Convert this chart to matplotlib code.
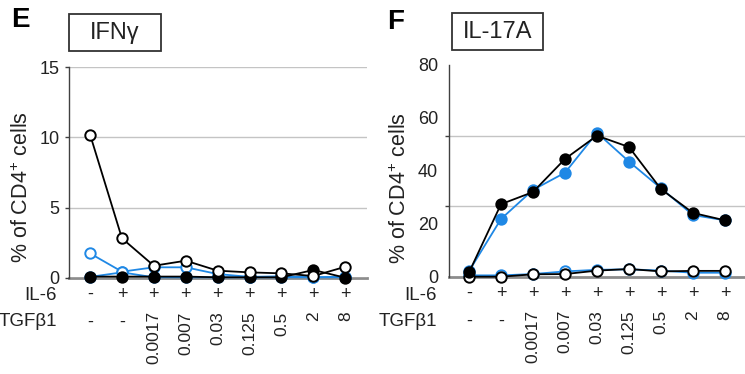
import matplotlib.pyplot as plt
from matplotlib.patches import Rectangle
from matplotlib.ticker import FixedLocator, NullFormatter

plt.rcParams['font.family'] = ['Liberation Sans', 'DejaVu Sans']
plt.rcParams['mathtext.fontset'] = 'custom'
plt.rcParams['mathtext.rm'] = 'Liberation Sans'

il6 = ['-', '+', '+', '+', '+', '+', '+', '+', '+']
tgfb1 = ['-', '-', '0.0017', '0.007', '0.03', '0.125', '0.5', '2', '8']
x = list(range(len(il6)))

# IFNg, % of CD4+ cells
ifng_open_black = [10.2, 2.82, 0.87, 1.23, 0.52, 0.40, 0.33, 0.14, 0.80]
ifng_open_blue = [1.75, 0.45, 0.76, 0.76, 0.28, 0.08, 0.12, 0.05, 0.10]
ifng_fill_black = [0.10, 0.10, 0.10, 0.10, 0.05, 0.05, 0.05, 0.57, 0.02]
ifng_fill_blue = [0.08, 0.40, 0.05, 0.05, 0.05, 0.05, 0.05, 0.05, 0.05]

# IL-17A, % of CD4+ cells
il17_fill_black = [1.6, 27.4, 32.0, 44.5, 53.3, 49.0, 33.1, 24.1, 21.3]
il17_fill_blue = [2.1, 21.8, 32.8, 39.3, 54.4, 43.5, 33.4, 23.3, 21.3]
il17_open_black = [0.0, 0.0, 0.9, 1.0, 2.3, 2.9, 2.0, 2.2, 2.2]
il17_open_blue = [0.5, 0.5, 1.0, 2.0, 2.6, 2.8, 2.3, 1.5, 1.5]

BLUE = '#1F88E5'
INK = '#222222'
W, H = 745, 374

fig = plt.figure(figsize=(W / 100, H / 100), dpi=100)


def px_axes(l, t, r, b):
    return fig.add_axes([l / W, 1 - b / H, (r - l) / W, (b - t) / H])


def series(ax, y, color, filled, z):
    ax.plot(x, y, color=color, lw=1.3, marker='o', ms=7.5, mew=1.4,
            mfc=color if filled else 'white', mec=color, zorder=z,
            clip_on=False)


def style(ax, xlim):
    ax.set_xlim(*xlim)
    ax.set_xticks([])
    for s in ('top', 'right'):
        ax.spines[s].set_visible(False)
    ax.spines['left'].set_color('#404040')
    ax.spines['left'].set_linewidth(1.0)
    ax.spines['bottom'].set_color('#8c8c8c')
    ax.spines['bottom'].set_linewidth(2.0)
    ax.spines['bottom'].set_zorder(1)
    ax.tick_params(axis='y', which='both', colors='#404040', labelcolor=INK,
                   labelsize=13, width=1.0)
    ax.set_ylabel('% of CD4$^{+}$ cells', fontsize=15.5, color=INK)


def bottom_rows(ax, row_x):
    tr = ax.get_xaxis_transform()
    for i in x:
        ax.annotate(il6[i], (i, 0), xycoords=tr, xytext=(0, -12),
                    textcoords='offset points', ha='center', va='center',
                    fontsize=13, color=INK)
        if tgfb1[i] == '-':
            ax.annotate('-', (i, 0), xycoords=tr, xytext=(0, -32),
                        textcoords='offset points', ha='center', va='center',
                        fontsize=13, color=INK)
        else:
            ax.annotate(tgfb1[i], (i, 0), xycoords=tr, xytext=(0, -24),
                        textcoords='offset points', ha='center', va='top',
                        rotation=90, fontsize=12.5, color=INK)
    fig.text(row_x / W, 1 - 295 / H, 'IL-6', ha='right', va='center',
             fontsize=13.5, color=INK)
    fig.text(row_x / W, 1 - 321 / H, 'TGF\u03b21', ha='right', va='center',
             fontsize=13.5, color=INK)


def title_box(l, t, r, b, label):
    fig.patches.append(Rectangle((l / W, 1 - b / H), (r - l) / W, (b - t) / H,
                                 transform=fig.transFigure, fill=False,
                                 ec='#333333', lw=1.3))
    fig.text((l + r) / 2 / W, 1 - (t + b) / 2 / H, label, ha='center',
             va='center', fontsize=17, color=INK)


# panel E: IFNg
axE = px_axes(69, 67, 367, 278)
axE.set_ylim(0, 15)
axE.set_yticks([0, 5, 10, 15])
axE.tick_params(axis='y', length=3, pad=4)
axE.grid(axis='y', color='#c4c4c4', lw=1.0, zorder=0)
style(axE, (-0.66, 8.68))
series(axE, ifng_fill_blue, BLUE, True, 3)
series(axE, ifng_open_blue, BLUE, False, 4)
series(axE, ifng_fill_black, 'black', True, 5)
series(axE, ifng_open_black, 'black', False, 6)
axE.yaxis.set_label_coords(-0.12, 0.43)
bottom_rows(axE, 57)
title_box(69, 14, 161, 51, 'IFN\u03b3')
fig.text(20 / W, 1 - 20 / H, 'E', ha='center', va='center', fontsize=20,
         fontweight='bold')

# panel F: IL-17A
axF = px_axes(449, 65, 745, 276.7)
axF.set_ylim(0, 80)
axF.set_yticks([0, 20, 40, 60, 80])
axF.yaxis.set_minor_locator(FixedLocator([80 / 3, 160 / 3, 80]))
axF.yaxis.set_minor_formatter(NullFormatter())
axF.tick_params(axis='y', which='major', length=0, pad=8)
axF.tick_params(axis='y', which='minor', length=3)
axF.grid(axis='y', which='minor', color='#c4c4c4', lw=1.0, zorder=0)
style(axF, (-0.625, 8.625))
series(axF, il17_open_blue, BLUE, False, 3)
series(axF, il17_open_black, 'black', False, 4)
series(axF, il17_fill_blue, BLUE, True, 5)
series(axF, il17_fill_black, 'black', True, 6)
axF.yaxis.set_label_coords(-0.127, 0.42)
bottom_rows(axF, 437)
title_box(452, 13, 543, 50, 'IL-17A')
fig.text(396 / W, 1 - 22 / H, 'F', ha='center', va='center', fontsize=20,
         fontweight='bold')

fig.savefig('out.png', dpi=100)
